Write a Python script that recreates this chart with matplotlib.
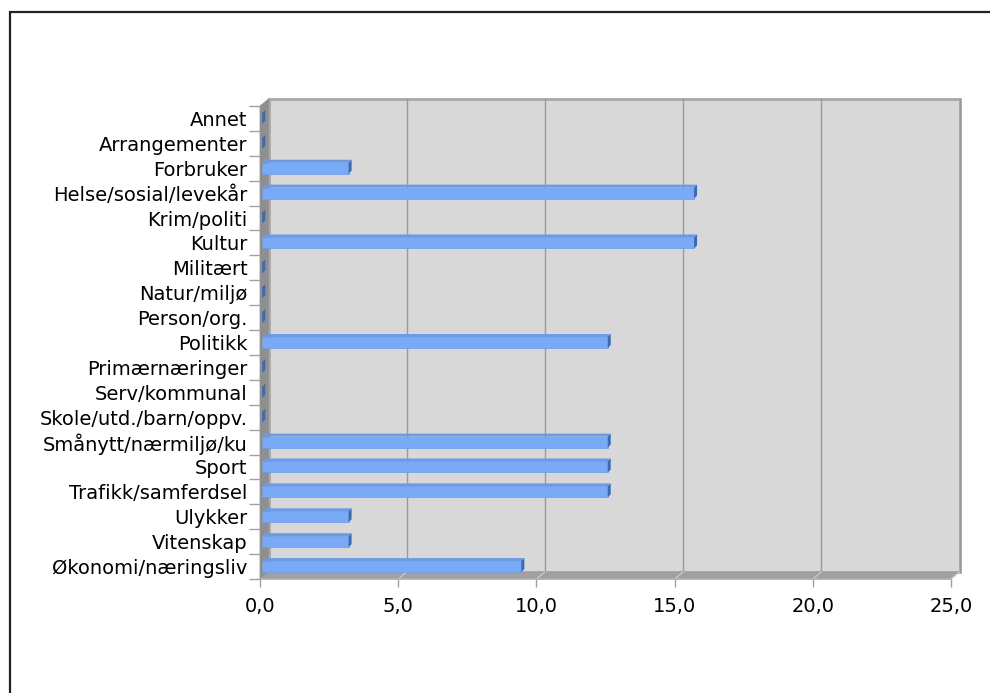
import matplotlib.pyplot as plt
from matplotlib.patches import Polygon, Rectangle
import numpy as np

plt.rcParams['font.family'] = ['DejaVu Sans']

categories = ['Annet', 'Arrangementer', 'Forbruker', 'Helse/sosial/levekår', 'Krim/politi',
              'Kultur', 'Militært', 'Natur/miljø', 'Person/org.', 'Politikk',
              'Primærnæringer', 'Serv/kommunal', 'Skole/utd./barn/oppv.',
              'Smånytt/nærmiljø/ku', 'Sport', 'Trafikk/samferdsel', 'Ulykker',
              'Vitenskap', 'Økonomi/næringsliv']
values = [0, 0, 3.125, 15.625, 0, 15.625, 0, 0, 0, 12.5,
          0, 0, 0, 12.5, 12.5, 12.5, 3.125, 3.125, 9.375]
xticks = [0, 5, 10, 15, 20, 25]
xticklabels = ['0,0', '5,0', '10,0', '15,0', '20,0', '25,0']

W, H = 990, 693
fig = plt.figure(figsize=(W / 100, H / 100), dpi=100)

# outer frame
fig.patches.append(Rectangle((10 / W, -0.1), 1.2, (H - 12) / H + 0.1, transform=fig.transFigure,
                             fill=False, edgecolor='#222222', linewidth=1.6))

left, right, top, bottom = 260, 951, 106, 579
ax = fig.add_axes([left / W, (H - bottom) / H, (right - left) / W, (bottom - top) / H])
n = len(categories)
ax.set_xlim(0, 25)
ax.set_ylim(n - 0.5, -0.5)
for s in ax.spines.values():
    s.set_visible(False)
ax.patch.set_visible(False)

# depth of the box, in data units
px_x = (right - left) / 25.0
px_y = (bottom - top) / n
dx = 8.5 / px_x
dy = 7.0 / px_y
y0, y1 = -0.5, n - 0.5

grid_c = '#9a9a9a'
# back wall
ax.add_patch(Polygon([(dx, y0 - dy), (25 + dx, y0 - dy), (25 + dx, y1 - dy), (dx, y1 - dy)],
                     closed=True, facecolor='#d8d8d8', edgecolor='#a8a8a8', linewidth=2,
                     clip_on=False, zorder=0))
# left wall
ax.add_patch(Polygon([(0, y0), (dx, y0 - dy), (dx, y1 - dy), (0, y1)], closed=True,
                     facecolor='#8f8f8f', edgecolor='#8f8f8f', linewidth=0.5, clip_on=False, zorder=1))
# floor
ax.add_patch(Polygon([(0, y1), (25, y1), (25 + dx, y1 - dy), (dx, y1 - dy)], closed=True,
                     facecolor='#a0a0a0', edgecolor='#a0a0a0', linewidth=0.5, clip_on=False, zorder=1))
for t in xticks[1:]:
    ax.plot([t + dx, t + dx], [y0 - dy, y1 - dy], color=grid_c, lw=1, zorder=0.5, clip_on=False)
    ax.plot([t, t + dx], [y1, y1 - dy], color='#cfcfcf', lw=0.8, zorder=1.5, clip_on=False)
ax.plot([0, 25], [y1, y1], color='#b0b0b0', lw=1.2, zorder=1.6, clip_on=False)

# bars
h = 0.44
bdx = 3.0 / px_x
bdy = 3.0 / px_y
ys = np.arange(n)
ax.barh(ys, values, height=h, left=0.08, color='#78aaf8', edgecolor='#6c9de8', linewidth=0.5, zorder=3)
for y, v in zip(ys, values):
    v = v + 0.08
    ax.add_patch(Polygon([(0.08, y - h / 2), (v, y - h / 2), (v + bdx, y - h / 2 - bdy), (0.08 + bdx, y - h / 2 - bdy)],
                         closed=True, facecolor='#6b9be6', edgecolor='none', zorder=3, clip_on=False))
    ax.add_patch(Polygon([(v, y - h / 2), (v, y + h / 2), (v + bdx, y + h / 2 - bdy), (v + bdx, y - h / 2 - bdy)],
                         closed=True, facecolor='#3f69a8', edgecolor='none', zorder=3, clip_on=False))

ax.set_yticks(ys)
ax.set_yticklabels(categories, fontsize=14)
ax.set_yticks(np.arange(-0.5, n, 1), minor=True)
ax.tick_params(axis='y', which='major', length=0, pad=9)
ax.tick_params(axis='y', which='minor', length=8, color='#a0a0a0', width=1)
ax.set_xticks(xticks)
ax.set_xticklabels(xticklabels, fontsize=14)
ax.tick_params(axis='x', length=6, color='#a0a0a0', width=1, pad=7)

fig.savefig('out.png', dpi=100)
